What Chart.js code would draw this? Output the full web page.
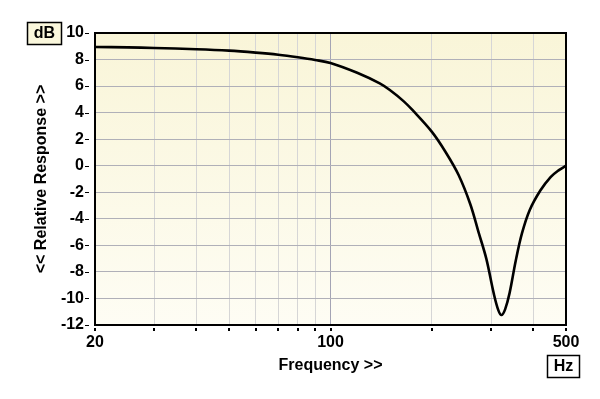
<!DOCTYPE html>
<html>
<head>
<meta charset="utf-8">
<script src="https://cdn.jsdelivr.net/npm/chart.js@4/dist/chart.umd.min.js"></script>
<style>
  html, body { margin: 0; padding: 0; background: #fff; }
  #wrap { width: 600px; height: 399px; }
</style>
</head>
<body>
<div id="wrap"><canvas id="responseChart" width="600" height="399"></canvas></div>
<script>
'use strict';

// frequency response (Hz -> dB)
const freqs = [20, 25, 30, 40, 50, 60, 70, 80, 90, 100, 120, 140, 150, 165, 175, 200, 220, 240, 260, 275, 290, 305, 315, 322, 330, 340, 355, 370, 390, 420, 450, 475, 500];
const response = [8.95, 8.92, 8.87, 8.78, 8.67, 8.52, 8.36, 8.17, 7.97, 7.74, 7.0, 6.2, 5.7, 4.85, 4.2, 2.55, 1.0, -0.7, -2.9, -5.0, -7.0, -9.6, -10.9, -11.25, -10.8, -9.6, -7.1, -5.1, -3.35, -1.85, -0.85, -0.35, 0];

const freqTicks = [20, 30, 40, 50, 60, 70, 80, 90, 100, 200, 300, 400, 500];
const freqLabels = [20, 100, 500];

const FONT = 'Arial, "Liberation Sans", sans-serif';

const points = freqs.map((f, i) => ({ x: f, y: response[i] }));

// plot background, frame, tick marks and unit boxes
const decor = {
  id: 'decor',
  beforeDraw(chart) {
    const { ctx, chartArea: a } = chart;
    const g = ctx.createLinearGradient(0, a.top, 0, a.bottom);
    g.addColorStop(0, '#f9f5d8');
    g.addColorStop(1, '#fefdf4');
    ctx.save();
    ctx.fillStyle = g;
    ctx.fillRect(a.left, a.top, a.right - a.left, a.bottom - a.top);
    ctx.restore();
  },
  afterDraw(chart) {
    const { ctx, chartArea: a, scales } = chart;
    ctx.save();
    ctx.strokeStyle = '#000';
    ctx.lineWidth = 2;
    ctx.strokeRect(a.left, a.top, a.right - a.left, a.bottom - a.top);

    // y tick dashes
    ctx.lineWidth = 1;
    scales.y.ticks.forEach(t => {
      const y = Math.round(scales.y.getPixelForValue(t.value)) + 0.5;
      ctx.beginPath();
      ctx.moveTo(85, y);
      ctx.lineTo(89, y);
      ctx.stroke();
    });
    // x tick marks
    ctx.lineWidth = 2;
    freqTicks.forEach(v => {
      const x = Math.round(scales.x.getPixelForValue(v));
      ctx.beginPath();
      ctx.moveTo(x, 328);
      ctx.lineTo(x, 331);
      ctx.stroke();
    });

    // unit boxes
    ctx.font = 'bold 16px ' + FONT;
    ctx.textAlign = 'center';
    ctx.textBaseline = 'middle';
    ctx.lineWidth = 1.5;
    ctx.fillStyle = '#faf7dc';
    ctx.fillRect(27.5, 22.5, 34, 22);
    ctx.strokeRect(27.5, 22.5, 34, 22);
    ctx.fillStyle = '#000';
    ctx.fillText('dB', 44.5, 34);
    ctx.fillStyle = '#fff';
    ctx.fillRect(547.5, 355.5, 32, 22);
    ctx.strokeRect(547.5, 355.5, 32, 22);
    ctx.fillStyle = '#000';
    ctx.fillText('Hz', 563.5, 367);
    ctx.restore();
  }
};

new Chart(document.getElementById('responseChart'), {
  type: 'line',
  data: {
    datasets: [
      {
        data: points,
        borderColor: '#000',
        borderWidth: 2.6,
        pointRadius: 0,
        tension: 0.35,
        fill: false,
      },
    ],
  },
  options: {
    responsive: false,
    animation: false,
    layout: { padding: { top: 33, right: 34, left: 0, bottom: 0 } },
    plugins: {
      legend: { display: false },
      tooltip: { enabled: false },
    },
    scales: {
      x: {
        type: 'logarithmic',
        min: 20,
        max: 500,
        afterFit: s => { s.height = 74; },
        afterBuildTicks: s => { s.ticks = freqTicks.map(v => ({ value: v })); },
        border: { display: false },
        grid: {
          drawTicks: false,
          color: c => (c.tick && c.tick.value === 100 ? '#a4a4b4' : '#d6d6d6'),
        },
        ticks: {
          autoSkip: false,
          maxRotation: 0,
          padding: 8,
          color: '#000',
          font: { family: FONT, size: 16, weight: 'bold' },
          callback: v => (freqLabels.includes(v) ? String(v) : ''),
        },
        title: {
          display: true,
          text: 'Frequency >>',
          color: '#000',
          font: { family: FONT, size: 16, weight: 'bold' },
          padding: { top: 0, bottom: 24 },
        },
      },
      y: {
        min: -12,
        max: 10,
        afterFit: s => { s.width = 95; },
        border: { display: false },
        grid: { drawTicks: false, color: '#b0b0b8' },
        ticks: {
          stepSize: 2,
          padding: 11,
          color: '#000',
          font: { family: FONT, size: 16, weight: 'bold' },
        },
        title: {
          display: true,
          text: '<< Relative Response >>',
          color: '#000',
          font: { family: FONT, size: 16, weight: 'bold' },
          padding: { top: 32, bottom: 0 },
        },
      },
    },
  },
  plugins: [decor],
});
</script>
</body>
</html>
